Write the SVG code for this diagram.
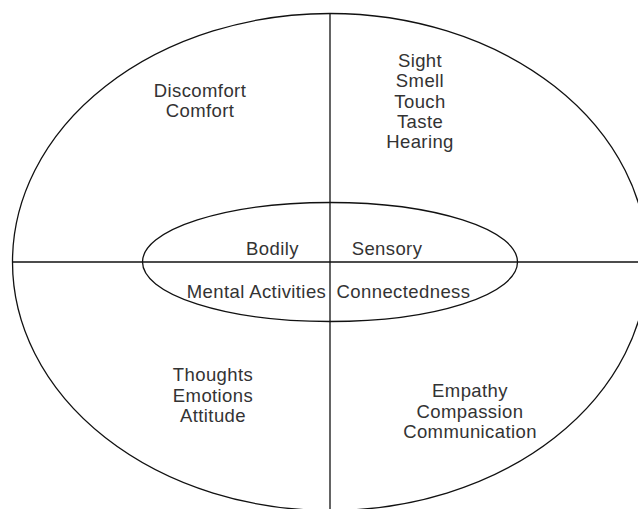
<svg xmlns="http://www.w3.org/2000/svg" width="638" height="509" viewBox="0 0 638 509">
<style>
.shape{fill:none;stroke:#111;stroke-width:1.3}
.t{font-family:"Liberation Sans",Arial,sans-serif;font-size:18.5px;letter-spacing:0.4px;fill:#333;text-anchor:middle}
</style>
<rect width="638" height="509" fill="#fff"/>
<g id="outer"><ellipse class="shape" cx="330" cy="262" rx="317.5" ry="248.5"/></g>
<g id="connectors">
<line class="shape" x1="330" y1="13.5" x2="330" y2="509"/>
<line class="shape" x1="12.5" y1="262" x2="638" y2="262"/>
</g>
<g id="inner"><ellipse class="shape" cx="330" cy="262" rx="187.5" ry="59.5"/></g>
<g id="bodily-label"><text class="t" x="272.5" y="254.5">Bodily</text></g>
<g id="sensory-label"><text class="t" x="387" y="254.5">Sensory</text></g>
<g id="mental-label"><text class="t" x="256.5" y="298">Mental Activities</text></g>
<g id="connected-label"><text class="t" x="403.5" y="298">Connectedness</text></g>
<g id="bodily"><text class="t" x="200" y="97">Discomfort</text><text class="t" x="200" y="117">Comfort</text></g>
<g id="sensory"><text class="t" x="420" y="67">Sight</text><text class="t" x="420" y="87">Smell</text><text class="t" x="420" y="107.5">Touch</text><text class="t" x="420" y="127.5">Taste</text><text class="t" x="420" y="148">Hearing</text></g>
<g id="mental"><text class="t" x="213" y="381">Thoughts</text><text class="t" x="213" y="401.5">Emotions</text><text class="t" x="213" y="422">Attitude</text></g>
<g id="connectedness"><text class="t" x="470" y="397">Empathy</text><text class="t" x="470" y="417.5">Compassion</text><text class="t" x="470" y="438">Communication</text></g>
</svg>
